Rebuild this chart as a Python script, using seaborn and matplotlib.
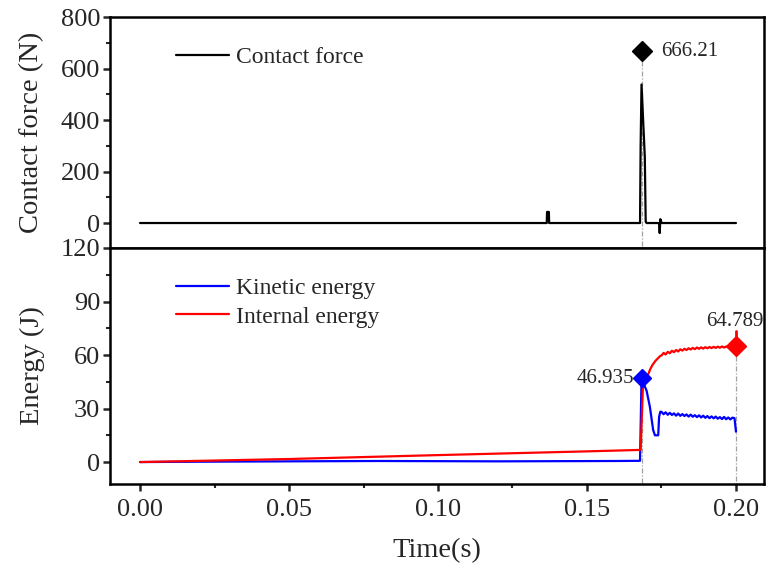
import numpy as np
import pandas as pd
import matplotlib
matplotlib.use("Agg")
import matplotlib.pyplot as plt
import seaborn as sns

# ---------------- data ----------------
force_t = [0.0, 0.1365, 0.1366, 0.1372, 0.1373, 0.1678, 0.1680, 0.1683, 0.1694,
           0.1697, 0.1700, 0.1742, 0.1744, 0.1746, 0.1748, 0.1750, 0.2000]
force_v = [0.0, 0.0, 43.0, 43.0, 0.0, 0.0, 300.0, 538.0, 256.0,
           5.0, 0.0, 0.0, -39.0, 15.0, 10.0, 0.0, 0.0]

ke_pre_t = [0.0, 0.02, 0.05, 0.08, 0.10, 0.12, 0.14, 0.16, 0.1678, 0.1683,
            0.1700, 0.1711, 0.1722, 0.1728, 0.1739, 0.1742, 0.1746]
ke_pre_v = [0.0, 0.2, 0.4, 0.6, 0.5, 0.4, 0.5, 0.6, 0.7, 46.9,
            40.0, 31.0, 18.0, 15.0, 15.0, 25.4, 28.2]
ke_post_v = [28.2, 26.8, 27.9, 26.5, 27.6, 26.4, 27.3, 26.0, 27.2, 25.9, 26.9, 25.8,
             26.7, 25.5, 26.6, 25.4, 26.3, 25.2, 26.2, 25.0, 26.0, 24.8, 25.8, 24.6,
             25.6, 24.5, 25.5, 24.3, 25.2, 24.1, 25.3, 24.0, 25.0, 23.9, 24.9, 24.6]
ke_end_t = [0.2000]
ke_end_v = [17.0]

ie_pre_t = [0.0, 0.05, 0.10, 0.15, 0.1678, 0.1680, 0.1688, 0.1695, 0.1700,
            0.1705, 0.1712, 0.1720, 0.1730, 0.1740, 0.1746]
ie_pre_v = [0.0, 1.7, 3.9, 6.0, 6.8, 7.0, 44.0, 47.0, 45.0,
            49.0, 52.0, 54.5, 56.8, 58.5, 59.5]
ie_post_v = [59.7, 61.2, 60.3, 61.8, 61.0, 62.4, 61.6, 62.8, 62.0, 63.2, 62.5, 63.5,
             62.8, 63.8, 63.1, 64.0, 63.3, 64.2, 63.5, 64.3, 63.6, 64.4, 63.8, 64.5,
             63.9, 64.6, 64.0, 64.7, 64.1, 64.8, 64.2, 64.8, 64.3, 64.9, 64.4, 64.8]
ie_end_t = [0.2000]
ie_end_v = [64.789]

post_t = list(np.linspace(0.1750, 0.1995, len(ke_post_v)))

peak_force = (0.1683, 666.21)
peak_ke = (0.1684, 46.935)
peak_ie = (0.2000, 64.789)

# ---------------- frames ----------------
df_force = pd.DataFrame({"t": force_t, "v": force_v, "s": "Contact force"})
df_ke = pd.DataFrame({"t": ke_pre_t + post_t + ke_end_t,
                      "v": ke_pre_v + ke_post_v + ke_end_v, "s": "Kinetic energy"})
df_ie = pd.DataFrame({"t": ie_pre_t + post_t + ie_end_t,
                      "v": ie_pre_v + ie_post_v + ie_end_v, "s": "Internal energy"})
df_energy = pd.concat([df_ke, df_ie], ignore_index=True)

# ---------------- style ----------------
sns.set_style("ticks")
plt.rcParams["font.family"] = ["Liberation Serif", "DejaVu Serif"]
plt.rcParams["mathtext.fontset"] = "stix"

fig = plt.figure(figsize=(7.66, 5.67), dpi=100)
L, R = 110 / 766, 764 / 766
yb_top = 1 - 248 / 567
ax1 = fig.add_axes([L, yb_top, R - L, (248 - 17) / 567])
ax2 = fig.add_axes([L, 1 - 484 / 567, R - L, (484 - 248) / 567], sharex=ax1)

sns.lineplot(data=df_force, x="t", y="v", hue="s", palette={"Contact force": "black"},
             estimator=None, sort=False, linewidth=1.6, ax=ax1)
sns.lineplot(data=df_energy, x="t", y="v", hue="s",
             palette={"Kinetic energy": "#0000ff", "Internal energy": "#ff0000"},
             estimator=None, sort=False, linewidth=1.6, ax=ax2)

# drop lines and markers
gray = "#a0a0a0"
ax1.plot([peak_force[0], peak_force[0]], [peak_force[1], -97], color=gray,
         lw=0.9, ls=(0, (4, 1.5, 1, 1.5)), zorder=1)
ax1.plot([peak_force[0]], [peak_force[1]], marker="D", ms=10, color="black", zorder=5)
ax1.text(peak_force[0] + 0.0065, peak_force[1], "666.21", fontsize=15,
         va="center", ha="left")

ax2.plot([peak_ke[0], peak_ke[0]], [peak_ke[1], -12.3], color=gray,
         lw=0.9, ls=(0, (4, 1.5, 1, 1.5)), zorder=1)
ax2.plot([peak_ie[0], peak_ie[0]], [peak_ie[1], -12.3], color=gray,
         lw=0.9, ls=(0, (4, 1.5, 1, 1.5)), zorder=1)
ax2.plot([peak_ie[0], peak_ie[0]], [peak_ie[1], 73.7], color="#ff0000", lw=2, zorder=4)
ax2.plot([peak_ke[0]], [peak_ke[1]], marker="D", ms=9, color="#0000ff", zorder=5)
ax2.plot([peak_ie[0]], [peak_ie[1]], marker="D", ms=10, color="#ff0000", zorder=5)
ax2.text(peak_ke[0] - 0.0025, peak_ke[1], "46.935", fontsize=15, va="center", ha="right")
ax2.text(peak_ie[0] - 0.0003, 79.0, "64.789", fontsize=15, va="center", ha="center")

# axes ranges / ticks
ax1.set_xlim(-0.01007, 0.2094)
ax1.set_ylim(-97, 800)
ax2.set_ylim(-12.3, 120)
ax1.set_yticks([0, 200, 400, 600, 800])
ax1.set_yticks([100, 300, 500, 700], minor=True)
ax2.set_yticks([0, 30, 60, 90, 120])
ax2.set_yticks([15, 45, 75, 105], minor=True)
ax2.set_xticks([0.0, 0.05, 0.10, 0.15, 0.20])
ax2.set_xticks([0.025, 0.075, 0.125, 0.175], minor=True)
ax2.set_xticklabels(["0.00", "0.05", "0.10", "0.15", "0.20"])

for ax in (ax1, ax2):
    for sp in ax.spines.values():
        sp.set_linewidth(1.8)
        sp.set_color("black")
    ax.tick_params(axis="y", which="major", direction="out", length=5, width=1.8,
                   labelsize=19, pad=2, right=False)
    ax.tick_params(axis="y", which="minor", direction="out", length=3, width=1.5, right=False)
ax2.tick_params(axis="x", which="major", direction="out", length=5, width=1.8,
                labelsize=19, pad=6, top=False)
ax2.tick_params(axis="x", which="minor", direction="out", length=3, width=1.5, top=False)
ax1.tick_params(axis="x", which="both", bottom=False, top=False, labelbottom=False)

ax1.set_xlabel("")
ax1.set_ylabel("Contact force (N)", fontsize=20.5)
ax2.set_ylabel("Energy (J)", fontsize=20.5)
ax2.set_xlabel("Time(s)", fontsize=20.5, labelpad=12)
ax1.yaxis.set_label_coords(-0.10, 0.5)
ax2.yaxis.set_label_coords(-0.10, 0.5)

ax1.legend(loc="upper left", bbox_to_anchor=(0.069, 0.965), frameon=False, fontsize=17,
           handlelength=2.23, handletextpad=0.3, title=None)
ax2.legend(loc="upper left", bbox_to_anchor=(0.069, 0.965), frameon=False, fontsize=17,
           handlelength=2.23, handletextpad=0.3, labelspacing=0.3, title=None)

fig.savefig("out.png", dpi=100)
